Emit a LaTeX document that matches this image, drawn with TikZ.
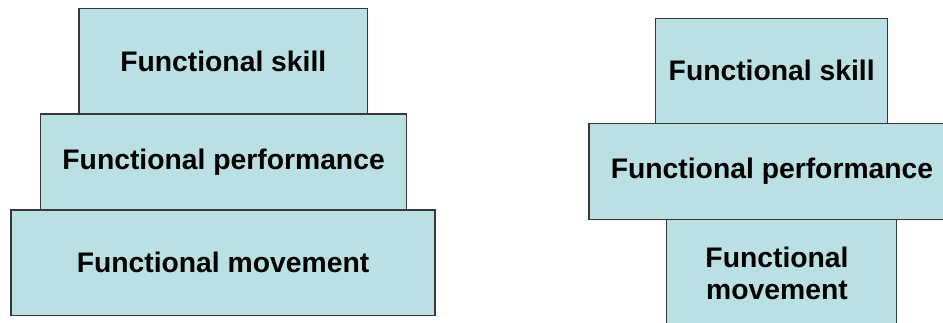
\documentclass[tikz,border=0pt]{standalone}
\usepackage{fontspec}
\setmainfont{Liberation Sans}
\definecolor{boxfill}{RGB}{186,224,227}
\definecolor{boxline}{RGB}{55,55,55}
\begin{document}
\begin{tikzpicture}[x=1pt,y=-1pt,
  tier/.style={draw=boxline,line width=1.3pt,fill=boxfill,inner sep=0pt,
    font=\fontsize{28.3}{32}\selectfont\bfseries,align=center},
  tiertext/.style={inner sep=0pt,font=\fontsize{28.3}{32}\selectfont\bfseries,align=center}]
\useasboundingbox (0,0) rectangle (943,322);
\clip (0,0) rectangle (943,322);
% left pyramid
\node[tier,minimum width=288.5pt,minimum height=105.7pt] (ls) at (223.3,61.2) {Functional skill};
\node[tier,minimum width=366pt,minimum height=95.5pt] (lp) at (223.6,161.8) {Functional performance};
\node[tier,minimum width=424pt,minimum height=105.7pt] (lm) at (223,262.8) {Functional movement};
% right stack
\node[tier,minimum width=232pt,minimum height=105pt] (rs) at (771.7,70.8) {Functional skill};
\node[tier,minimum width=366pt,minimum height=96pt] (rp) at (772,171.3) {Functional performance};
\node[tier,minimum width=230pt,minimum height=108pt] (rm) at (781.7,273.3) {};
\node[tiertext] (rmt) at (777,273.5) {Functional\\movement};
\end{tikzpicture}
\end{document}
